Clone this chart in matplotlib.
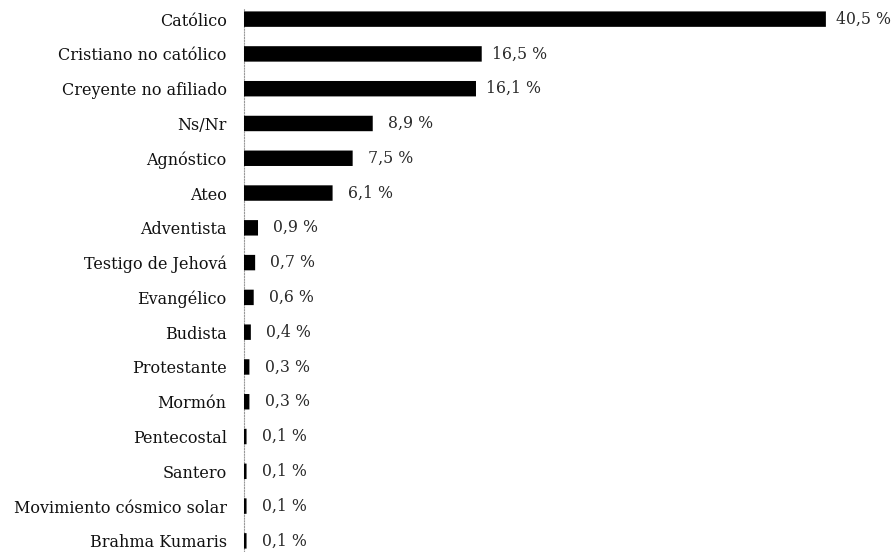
import matplotlib.pyplot as plt

# Datos
categorias = ["Católico", "Cristiano no católico", "Creyente no afiliado", "Ns/Nr",
              "Agnóstico", "Ateo", "Adventista", "Testigo de Jehová", "Evangélico",
              "Budista", "Protestante", "Mormón", "Pentecostal", "Santero",
              "Movimiento cósmico solar", "Brahma Kumaris"]
valores = [40.5, 16.5, 16.1, 8.9, 7.5, 6.1, 0.9, 0.7, 0.6, 0.4, 0.3, 0.3, 0.1, 0.1, 0.1, 0.1]
etiquetas = ["40,5 %", "16,5 %", "16,1 %", "8,9 %", "7,5 %", "6,1 %", "0,9 %", "0,7 %",
             "0,6 %", "0,4 %", "0,3 %", "0,3 %", "0,1 %", "0,1 %", "0,1 %", "0,1 %"]

plt.rcParams['font.family'] = ['DejaVu Serif']

fig = plt.figure(figsize=(8.94, 5.52), dpi=100)
ax = fig.add_axes([244 / 894, 0, 650 / 894, 1])

y = list(range(len(categorias)))
ax.barh(y, valores, height=0.38, color='black', edgecolor='black', linewidth=1.6,
        snap=False, zorder=3)

for yi, v, lab in zip(y, valores, etiquetas):
    ax.annotate(lab, (v, yi), xytext=(28, 0), textcoords='offset points',
                va='center', ha='center', fontsize=11.3, color='#2a2a2a')

ax.set_xlim(0, 650 / 14.34)
ax.set_ylim(15.32, -0.55)
ax.set_yticks(y)
ax.set_yticklabels(categorias, fontsize=11.5, color='#111111')
ax.tick_params(axis='y', length=0, pad=12.5)
ax.set_xticks([])

for s in ['top', 'right', 'bottom']:
    ax.spines[s].set_visible(False)
ax.spines['left'].set_linestyle((0, (1, 1.5)))
ax.spines['left'].set_color('#999999')
ax.spines['left'].set_linewidth(0.8)
ax.spines['left'].set_bounds(15.32, -0.32)

fig.savefig('out.png', dpi=100)
